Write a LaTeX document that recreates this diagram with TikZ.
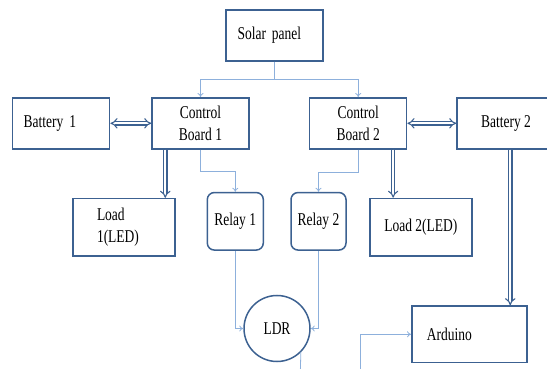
\documentclass[tikz,border=0pt]{standalone}
\usepackage{fontspec}
\setmainfont{Liberation Serif}[FakeStretch=0.75]
\usetikzlibrary{arrows.meta}
\definecolor{boxblue}{RGB}{60,97,145}
\definecolor{feedblue}{RGB}{141,176,220}

\begin{document}
\begin{tikzpicture}[x=1pt,y=-1pt,
  box/.style={draw=boxblue,line width=1.5pt,fill=white,minimum width=97pt,minimum height=51pt,align=center,font=\fontsize{18}{21.7}\selectfont},
  lbox/.style={box,align=left},
  relay/.style={box,rounded corners=7pt,minimum width=56pt,minimum height=57.5pt},
  feed/.style={-{To[length=4pt,width=6pt]},draw=feedblue,line width=0.8pt},
  pow/.style={draw=boxblue,line width=1.1pt,double=white,double distance=2.4pt,-{Implies}}
]
\clip (0,0) rectangle (547,369);
\node[lbox,text width=74pt,inner xsep=11.5pt] (solar) at (274.5,35.3) {Solar panel};
\node[lbox,text width=75pt,inner xsep=11pt] (bat1) at (61.2,123.3) {Battery 1};
\node[box] (cb1) at (200.5,123.3) {Control\\Board 1};
\node[box] (cb2) at (358.2,123.3) {Control\\Board 2};
\node[box,minimum width=98pt] (bat2) at (506,123.3) {Battery 2};
\node[lbox,text width=54pt,inner xsep=24pt,minimum height=57.5pt] (load1) at (124,227.3) {Load\\1(LED)};
\node[relay] (relay1) at (235.3,221.3) {Relay 1};
\node[relay,minimum width=55pt] (relay2) at (318.5,221.3) {Relay 2};
\node[box,minimum width=102.3pt,minimum height=57.5pt] (load2) at (420.9,227.2) {Load 2(LED)};
\node[box,circle,minimum size=66pt,inner sep=0pt] (ldr) at (277,328.5) {LDR};
\node[lbox,text width=85pt,inner xsep=15pt,minimum height=56.7pt] (arduino) at (469.3,334.3) {Arduino};
\coordinate (ldrout) at (300.3,372);
\coordinate (ardin) at (360,372);
% solar panel feeds both boards
\draw[feed] (solar.south) -- ++(0,18.3) coordinate (split) -| (cb1.north);
\draw[feed] (split) -| (cb2.north);
\draw[feed] (cb1.south) -- ++(0,22) -| (relay1.north);
\draw[feed] (cb2.south) -- ++(0,22.5) -| (relay2.north);
\draw[feed] (relay1.south) |- (ldr.west);
\draw[feed] (relay2.south) |- (ldr.east);
\draw[feed,-] (ldr.-45) -- (ldrout);
\draw[feed] (ardin) |- (arduino.west);
% power lines
\draw[pow,{Implies}-{Implies}] (bat1.east) -- (cb1.west);
\draw[pow,{Implies}-{Implies}] (cb2.east) -- (bat2.west);
\draw[pow] ([xshift=14pt]cb1.south west) -- ([xshift=14pt]cb1.south west |- load1.north);
\draw[pow] ([xshift=-14.3pt]cb2.south east) -- ([xshift=-14.3pt]cb2.south east |- load2.north);
\draw[pow] ([xshift=54pt]bat2.south west) -- ([xshift=54pt]bat2.south west |- arduino.north);
\end{tikzpicture}
\end{document}
